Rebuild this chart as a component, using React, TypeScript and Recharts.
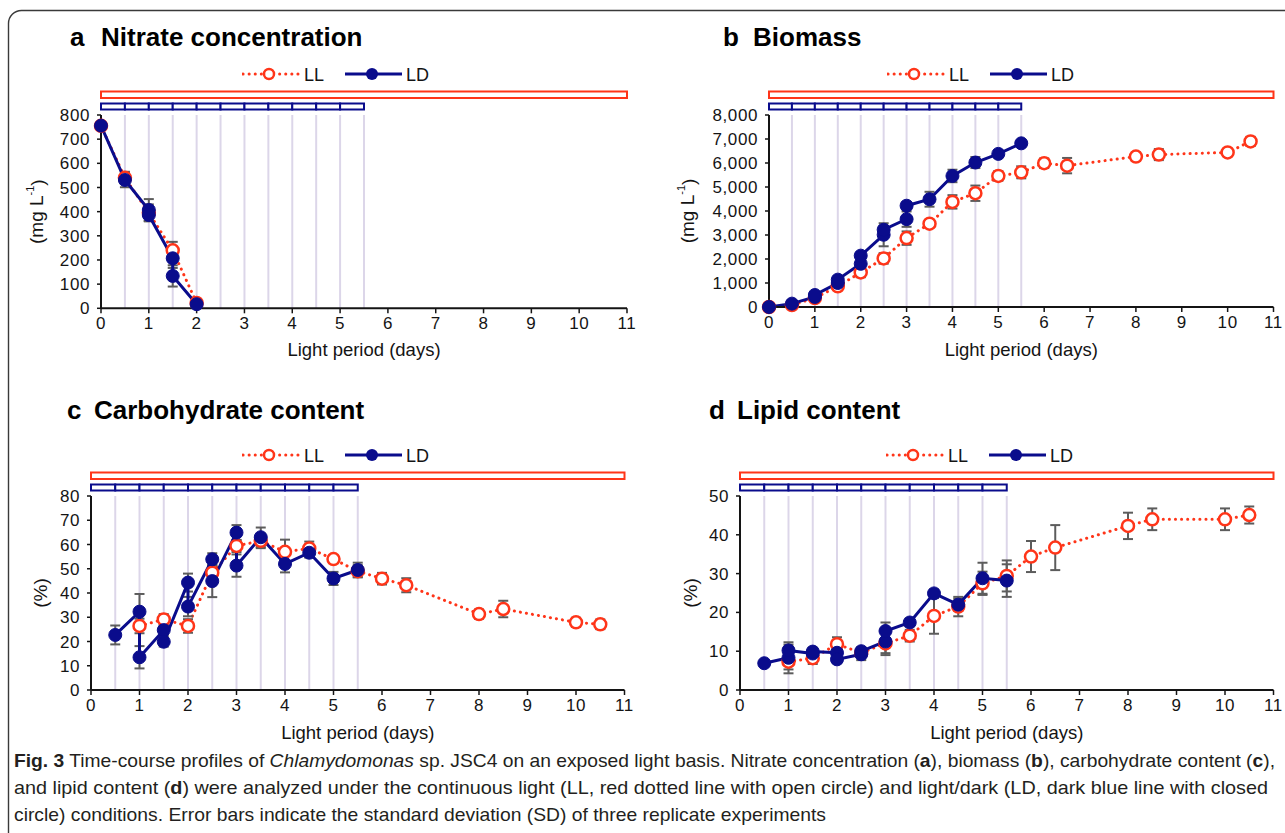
import React from 'react';
import { LineChart, Line, XAxis, YAxis, ErrorBar, ReferenceLine, ReferenceArea, Legend, Label } from 'recharts';

const RED = '#ff3519';
const NAVY = '#0a0c8c';
const GRID = '#dcd6e9';
const ERR = '#5c5c5c';
const AX = '#141414';
const FONT = '"Liberation Sans", Arial, Helvetica, sans-serif';
const CAPFONT = '"Liberation Sans Narrow", "Liberation Sans", Arial, sans-serif';

const dayTicks = [0, 1, 2, 3, 4, 5, 6, 7, 8, 9, 10, 11];
const lightLines = [0.5, 1, 1.5, 2, 2.5, 3, 3.5, 4, 4.5, 5, 5.5];
const ldBlocks = [0, 0.5, 1, 1.5, 2, 2.5, 3, 3.5, 4, 4.5, 5];

// a: Nitrate concentration (mg/L)
const nitrateLLDays = [0, 0.5, 1, 1.5, 2];
const nitrateLL = [755, 540, 395, 240, 22];
const nitrateLLSD = [0, 25, 35, 35, 8];
const nitrateLDDays = [0, 0.5, 1, 1, 1.5, 1.5, 2];
const nitrateLD = [756, 531, 407, 386, 207, 134, 17];
const nitrateLDSD = [0, 30, 45, 25, 40, 44, 8];

// b: Biomass (mg/L)
const biomassLLDays = [0, 0.5, 1, 1.5, 2, 2.5, 3, 3.5, 4, 4.5, 5, 5.5, 6, 6.5, 8, 8.5, 10, 10.5];
const biomassLL = [0, 80, 375, 860, 1440, 2025, 2870, 3470, 4380, 4740, 5460, 5610, 5990, 5890, 6270, 6350, 6440, 6900];
const biomassLLSD = [0, 40, 80, 120, 200, 220, 280, 120, 280, 320, 200, 250, 200, 320, 170, 230, 90, 190];
const biomassLDDays = [0, 0.5, 1, 1, 1.5, 1.5, 2, 2, 2.5, 2.5, 3, 3, 3.5, 4, 4.5, 5, 5.5];
const biomassLD = [0, 140, 420, 500, 1000, 1140, 1800, 2140, 3010, 3220, 3660, 4220, 4490, 5460, 6020, 6380, 6820];
const biomassLDSD = [0, 40, 60, 60, 100, 80, 150, 120, 480, 150, 320, 150, 310, 260, 230, 150, 120];

// c: Carbohydrate content (%)
const carbLLDays = [1, 1.5, 2, 2.5, 3, 3.5, 4, 4.5, 5, 5.5, 6, 6.5, 8, 8.5, 10, 10.5];
const carbLL = [26.4, 29.1, 26.4, 48.4, 59.4, 61.5, 57.0, 58.4, 54.0, 49.0, 45.9, 43.2, 31.3, 33.4, 27.9, 27.1];
const carbLLSD = [3, 2.2, 2.8, 3, 2.5, 3, 5, 2.8, 1.5, 2.5, 2.4, 2.9, 1.9, 3.4, 1.9, 2.0];
const carbLDDays = [0.5, 1, 1, 1.5, 1.5, 2, 2, 2.5, 2.5, 3, 3, 3.5, 4, 4.5, 5, 5.5];
const carbLD = [22.7, 32.3, 13.5, 24.7, 19.9, 44.3, 34.4, 53.9, 44.9, 64.9, 51.3, 63.0, 52.0, 56.6, 46.0, 49.5];
const carbLDSD = [3.9, 7.3, 4.6, 2, 2, 3.7, 4, 2.5, 6.6, 3.1, 4.6, 4, 3.5, 2, 2.7, 3];

// d: Lipid content (%)
const lipidLLDays = [1, 1.5, 2, 2.5, 3, 3.5, 4, 4.5, 5, 5.5, 6, 6.5, 8, 8.5, 10, 10.5];
const lipidLL = [7.3, 8.2, 11.8, 9.6, 12.0, 14.0, 19.1, 21.5, 27.5, 29.4, 34.4, 36.7, 42.3, 44.0, 44.0, 45.1];
const lipidLLSD = [2, 1.5, 1.8, 1, 2.5, 1.5, 4.6, 2.5, 3, 4, 4, 5.8, 3.4, 2.8, 2.8, 2.2];
const lipidLDDays = [0.5, 1, 1, 1.5, 1.5, 2, 2, 2.5, 2.5, 3, 3, 3.5, 4, 4.5, 5, 5.5];
const lipidLD = [6.9, 8.3, 10.2, 9.4, 9.9, 9.6, 7.9, 9.2, 10.0, 12.5, 15.2, 17.4, 24.9, 22.0, 28.8, 28.2];
const lipidLDSD = [0.8, 4, 1.5, 1, 1, 1.5, 1, 1.5, 1, 3.5, 2.2, 1, 1, 1.5, 4, 4.2];

const nitrateTicks = [0, 100, 200, 300, 400, 500, 600, 700, 800];
const biomassTicks = [0, 1000, 2000, 3000, 4000, 5000, 6000, 7000, 8000];
const carbTicks = [0, 10, 20, 30, 40, 50, 60, 70, 80];
const lipidTicks = [0, 10, 20, 30, 40, 50];

type Pt = { x: number; y: number; e: number };
const toPts = (xs: number[], ys: number[], es: number[]): Pt[] =>
  xs.map((x, i) => ({ x, y: ys[i], e: es[i] }));

const LegendBox = () => (
  <svg width={200} height={24} style={{ display: 'block' }}>
    <line x1={1} x2={56} y1={12} y2={12} stroke={RED} strokeWidth={3} strokeDasharray="0.1 6" strokeLinecap="round" />
    <circle cx={27} cy={12} r={5} fill="#fff" stroke={RED} strokeWidth={2.5} />
    <text x={62} y={18.5} fontSize={18} fontFamily={FONT} fill={AX}>LL</text>
    <line x1={103} x2={160} y1={12} y2={12} stroke={NAVY} strokeWidth={3} />
    <circle cx={130} cy={12} r={6} fill={NAVY} />
    <text x={164} y={18.5} fontSize={18} fontFamily={FONT} fill={AX}>LD</text>
  </svg>
);

const mgLabel = (cx: number, cy: number) => (
  <text x={cx} y={cy} transform={`rotate(-90, ${cx}, ${cy})`} textAnchor="middle" dominantBaseline="central"
    fontSize={19} fontFamily={FONT} fill={AX}>
    (mg L<tspan fontSize={11} dy={-7}>-1</tspan><tspan dy={7}>)</tspan>
  </text>
);
const pctLabel = (cx: number, cy: number) => (
  <text x={cx} y={cy} transform={`rotate(-90, ${cx}, ${cy})`} textAnchor="middle" dominantBaseline="central"
    fontSize={19} fontFamily={FONT} fill={AX}>(%)</text>
);

type PanelProps = {
  l: number; r: number; t: number; b: number;
  yMax: number; yTicks: number[]; fmt?: (v: number) => string;
  yLabel: (cx: number, cy: number) => React.ReactElement; yLabelX: number;
  xLabelBase: number; legendX: number; legendY: number;
  ll: Pt[]; ld: Pt[];
};

function Panel(p: PanelProps) {
  const PADL = 100, PADT = 75, PADR = 20, PADB = 55, XH = 30, ML = 10;
  const plotW = p.r - p.l, plotH = p.b - p.t;
  const boxLeft = p.l - PADL, boxTop = p.t - PADT;
  const W = plotW + PADL + PADR, H = plotH + PADT + PADB;
  const vpp = p.yMax / plotH;
  const redY = [p.yMax + 17 * vpp, p.yMax + 23.5 * vpp];
  const blueY = [p.yMax + 5.5 * vpp, p.yMax + 11.5 * vpp];
  const tickStyle = { fill: AX, fontSize: 17, fontFamily: FONT, letterSpacing: 0.6 };
  return (
    <div style={{ position: 'absolute', left: boxLeft, top: boxTop, width: W, height: H }}>
      <LineChart width={W} height={H} margin={{ top: PADT, right: PADR, bottom: PADB - XH, left: ML }}>
        <XAxis type="number" dataKey="x" domain={[0, 11]} ticks={dayTicks} interval={0} height={XH}
          tickSize={5} tickMargin={4} axisLine={{ stroke: AX, strokeWidth: 2 }}
          tickLine={{ stroke: AX, strokeWidth: 1.5 }} tick={tickStyle}>
          <Label content={() => (
            <text x={PADL + plotW / 2} y={p.xLabelBase - boxTop} textAnchor="middle" fontSize={18.5}
              fontFamily={FONT} fill={AX}>Light period (days)</text>
          )} />
        </XAxis>
        <YAxis type="number" domain={[0, p.yMax]} ticks={p.yTicks} interval={0} width={PADL - ML}
          tickSize={4} tickMargin={7} tickFormatter={p.fmt} axisLine={{ stroke: AX, strokeWidth: 2 }}
          tickLine={{ stroke: AX, strokeWidth: 1.5 }} tick={tickStyle}>
          <Label content={() => p.yLabel(p.yLabelX - boxLeft, PADT + plotH / 2)} />
        </YAxis>
        {lightLines.map((v) => (
          <ReferenceLine key={'g' + v} x={v} stroke={GRID} strokeWidth={2} />
        ))}
        <ReferenceArea x1={0} x2={11} y1={redY[0]} y2={redY[1]} ifOverflow="visible"
          stroke={RED} strokeWidth={2} fill="#fff" fillOpacity={1} />
        {ldBlocks.map((v) => (
          <ReferenceArea key={'b' + v} x1={v} x2={v + 0.5} y1={blueY[0]} y2={blueY[1]} ifOverflow="visible"
            stroke={NAVY} strokeWidth={2} fill="#fff" fillOpacity={1} />
        ))}
        <Line data={p.ll} dataKey="y" type="linear" stroke={RED} strokeWidth={3} strokeDasharray="0.1 6"
          strokeLinecap="round" isAnimationActive={false}
          dot={{ r: 6, fill: '#fff', stroke: RED, strokeWidth: 2.5, strokeDasharray: 'none' }}>
          <ErrorBar dataKey="e" direction="y" width={5} stroke={ERR} strokeWidth={2} />
        </Line>
        <Line data={p.ld} dataKey="y" type="linear" stroke={NAVY} strokeWidth={3} isAnimationActive={false}
          dot={{ r: 6.5, fill: NAVY, stroke: NAVY, strokeWidth: 1 }}>
          <ErrorBar dataKey="e" direction="y" width={5} stroke={ERR} strokeWidth={2} />
        </Line>
        <Legend content={LegendBox} layout="horizontal" verticalAlign="middle" align="center"
          wrapperStyle={{ left: p.legendX - boxLeft, top: p.legendY - boxTop - 12, width: 200, height: 24 }} />
      </LineChart>
    </div>
  );
}

const comma = (v: number) => v.toLocaleString('en-US');

const titleStyle = { fontSize: 26, fontWeight: 700, fontFamily: FONT, fill: '#000' } as const;

export default function App() {
  return (
    <div style={{ position: 'fixed', left: 0, top: 0, width: 1285, height: 833, overflow: 'hidden', background: '#fff' }}>
      <svg width={1285} height={833} style={{ position: 'absolute', left: 0, top: 0 }}>
        <rect x={8.5} y={10.5} width={1400} height={900} rx={13} fill="none" stroke="#3a3a3a" strokeWidth={1.4} />
      </svg>
      <Panel l={101} r={627} t={115} b={308.3} yMax={800} yTicks={nitrateTicks} yLabel={mgLabel} yLabelX={37}
        xLabelBase={356} legendX={242} legendY={74}
        ll={toPts(nitrateLLDays, nitrateLL, nitrateLLSD)} ld={toPts(nitrateLDDays, nitrateLD, nitrateLDSD)} />
      <Panel l={768.5} r={1273} t={115} b={307} yMax={8000} yTicks={biomassTicks} fmt={comma} yLabel={mgLabel}
        yLabelX={687} xLabelBase={356} legendX={887} legendY={74}
        ll={toPts(biomassLLDays, biomassLL, biomassLLSD)} ld={toPts(biomassLDDays, biomassLD, biomassLDSD)} />
      <Panel l={91} r={624.5} t={496} b={690} yMax={80} yTicks={carbTicks} yLabel={pctLabel} yLabelX={40}
        xLabelBase={739} legendX={242} legendY={455}
        ll={toPts(carbLLDays, carbLL, carbLLSD)} ld={toPts(carbLDDays, carbLD, carbLDSD)} />
      <Panel l={739.5} r={1273} t={496} b={690} yMax={50} yTicks={lipidTicks} yLabel={pctLabel} yLabelX={690}
        xLabelBase={739} legendX={886} legendY={455}
        ll={toPts(lipidLLDays, lipidLL, lipidLLSD)} ld={toPts(lipidLDDays, lipidLD, lipidLDSD)} />
      <svg width={1285} height={833} style={{ position: 'absolute', left: 0, top: 0, pointerEvents: 'none' }}>
        <text x={70} y={46} {...titleStyle}>a</text>
        <text x={101} y={46} {...titleStyle}>Nitrate concentration</text>
        <text x={723} y={46} {...titleStyle}>b</text>
        <text x={753} y={46} {...titleStyle}>Biomass</text>
        <text x={67} y={419} {...titleStyle}>c</text>
        <text x={94} y={419} {...titleStyle}>Carbohydrate content</text>
        <text x={709} y={419} {...titleStyle}>d</text>
        <text x={737} y={419} {...titleStyle}>Lipid content</text>
        <g fontFamily={CAPFONT} fontSize={18.5} fill="#231f20" style={{ whiteSpace: 'pre' }}>
          <text x={14} y={767} textLength={1261} lengthAdjust="spacingAndGlyphs">
            <tspan fontWeight={700}>Fig. 3</tspan>
            {'  Time-course profiles of '}
            <tspan fontStyle="italic">Chlamydomonas</tspan>
            {' sp. JSC4 on an exposed light basis. Nitrate concentration ('}
            <tspan fontWeight={700}>a</tspan>
            {'), biomass ('}
            <tspan fontWeight={700}>b</tspan>
            {'), carbohydrate content ('}
            <tspan fontWeight={700}>c</tspan>
            {'),'}
          </text>
          <text x={14} y={794} textLength={1254} lengthAdjust="spacingAndGlyphs">
            {'and lipid content ('}
            <tspan fontWeight={700}>d</tspan>
            {') were analyzed under the continuous light (LL, red dotted line with open circle) and light/dark (LD, dark blue line with closed'}
          </text>
          <text x={14} y={821} textLength={812} lengthAdjust="spacingAndGlyphs">
            {'circle) conditions. Error bars indicate the standard deviation (SD) of three replicate experiments'}
          </text>
        </g>
      </svg>
    </div>
  );
}
